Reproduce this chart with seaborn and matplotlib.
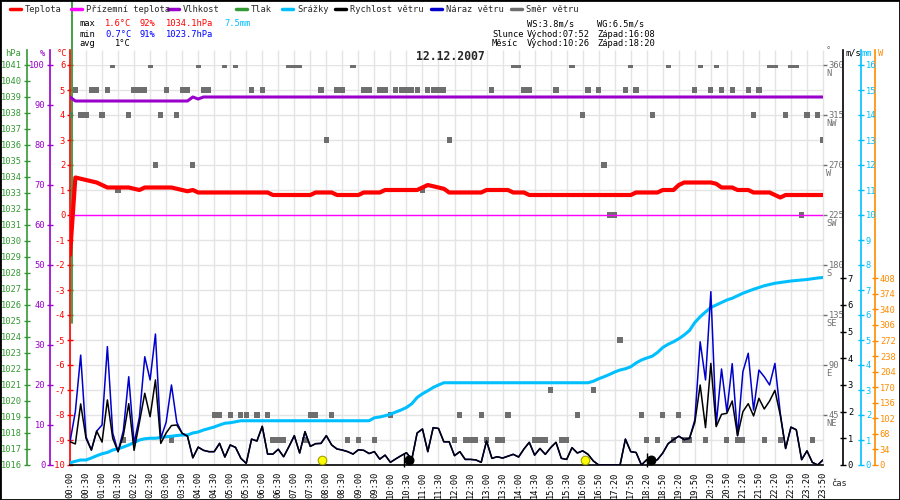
import numpy as np
import pandas as pd
import matplotlib
matplotlib.use("Agg")
import matplotlib.pyplot as plt
from matplotlib.lines import Line2D
from matplotlib.patches import Rectangle
import seaborn as sns

# --- data (10 min samples, label every 3rd sample) ---
tick_labels = ["00:00", "00:30", "01:00", "01:30", "02:02", "02:30", "03:00", "03:30",
               "04:00", "04:30", "05:00", "05:30", "06:00", "06:30", "07:00", "07:30",
               "08:00", "08:30", "09:00", "09:30", "10:00", "10:30", "11:00", "11:30",
               "12:00", "12:30", "13:00", "13:30", "14:00", "14:30", "15:00", "15:30",
               "16:00", "16:50", "17:20", "17:50", "18:20", "18:50", "19:20", "19:50",
               "20:20", "20:50", "21:20", "21:50", "22:20", "22:50", "23:20", "23:50"]

temperature = [
    -1.6, 1.5, 1.45, 1.4, 1.35, 1.3, 1.2, 1.1, 1.1, 1.1, 1.1, 1.1,
    1.05, 1.0, 1.1, 1.1, 1.1, 1.1, 1.1, 1.1, 1.05, 1.0, 0.95, 1.0,
    0.9, 0.9, 0.9, 0.9, 0.9, 0.9, 0.9, 0.9, 0.9, 0.9, 0.9, 0.9,
    0.9, 0.9, 0.8, 0.8, 0.8, 0.8, 0.8, 0.8, 0.8, 0.8, 0.9, 0.9,
    0.9, 0.9, 0.8, 0.8, 0.8, 0.8, 0.8, 0.9, 0.9, 0.9, 0.9, 1.0,
    1.0, 1.0, 1.0, 1.0, 1.0, 1.0, 1.1, 1.2, 1.15, 1.1, 1.05, 0.9,
    0.9, 0.9, 0.9, 0.9, 0.9, 0.9, 1.0, 1.0, 1.0, 1.0, 1.0, 0.9,
    0.9, 0.9, 0.8, 0.8, 0.8, 0.8, 0.8, 0.8, 0.8, 0.8, 0.8, 0.8,
    0.8, 0.8, 0.8, 0.8, 0.8, 0.8, 0.8, 0.8, 0.8, 0.8, 0.9, 0.9,
    0.9, 0.9, 0.9, 1.0, 1.0, 1.0, 1.2, 1.3, 1.3, 1.3, 1.3, 1.3,
    1.3, 1.25, 1.1, 1.1, 1.1, 1.0, 1.0, 1.0, 0.9, 0.9, 0.9, 0.9,
    0.8, 0.7, 0.8, 0.8, 0.8, 0.8, 0.8, 0.8, 0.8, 0.8,
]

humidity = [
    92, 91, 91, 91, 91, 91, 91, 91, 91, 91, 91, 91,
    91, 91, 91, 91, 91, 91, 91, 91, 91, 91, 91, 92,
    91.5, 92, 92, 92, 92, 92, 92, 92, 92, 92, 92, 92,
    92, 92, 92, 92, 92, 92, 92, 92, 92, 92, 92, 92,
    92, 92, 92, 92, 92, 92, 92, 92, 92, 92, 92, 92,
    92, 92, 92, 92, 92, 92, 92, 92, 92, 92, 92, 92,
    92, 92, 92, 92, 92, 92, 92, 92, 92, 92, 92, 92,
    92, 92, 92, 92, 92, 92, 92, 92, 92, 92, 92, 92,
    92, 92, 92, 92, 92, 92, 92, 92, 92, 92, 92, 92,
    92, 92, 92, 92, 92, 92, 92, 92, 92, 92, 92, 92,
    92, 92, 92, 92, 92, 92, 92, 92, 92, 92, 92, 92,
    92, 92, 92, 92, 92, 92, 92, 92, 92, 92,
]

# only the first pressure sample is on the scale, the rest runs off the top
pressure_start = 1024.9

rain = [
    0.09, 0.15, 0.2, 0.2, 0.28, 0.37, 0.45, 0.5, 0.6, 0.65, 0.72, 0.8,
    0.9, 1.0, 1.05, 1.07, 1.07, 1.1, 1.13, 1.15, 1.18, 1.2, 1.2, 1.28,
    1.32, 1.4, 1.46, 1.52, 1.6, 1.67, 1.69, 1.73, 1.77, 1.77, 1.77, 1.77,
    1.77, 1.77, 1.77, 1.77, 1.77, 1.77, 1.77, 1.77, 1.77, 1.77, 1.77, 1.77,
    1.77, 1.77, 1.77, 1.77, 1.77, 1.77, 1.77, 1.77, 1.77, 1.89, 1.92, 1.97,
    2.03, 2.12, 2.2, 2.3, 2.45, 2.7, 2.85, 2.97, 3.1, 3.2, 3.29, 3.29,
    3.29, 3.29, 3.29, 3.29, 3.29, 3.29, 3.29, 3.29, 3.29, 3.29, 3.29, 3.29,
    3.29, 3.29, 3.29, 3.29, 3.29, 3.29, 3.29, 3.29, 3.29, 3.29, 3.29, 3.29,
    3.29, 3.29, 3.35, 3.45, 3.53, 3.62, 3.72, 3.8, 3.85, 3.93, 4.08, 4.2,
    4.28, 4.35, 4.5, 4.7, 4.83, 4.93, 5.05, 5.2, 5.38, 5.7, 5.93, 6.12,
    6.3, 6.4, 6.5, 6.6, 6.67, 6.77, 6.87, 6.95, 7.03, 7.1, 7.17, 7.22,
    7.27, 7.3, 7.33, 7.36, 7.38, 7.4, 7.42, 7.45, 7.48, 7.5,
]

wind_speed = [
    0.87, 0.79, 2.29, 1.0, 0.56, 1.27, 0.86, 2.44, 1.0, 0.5, 1.12, 2.3,
    0.55, 1.6, 2.69, 1.81, 3.19, 0.81, 1.2, 1.48, 1.5, 1.19, 1.08, 0.27,
    0.67, 0.55, 0.5, 0.5, 0.81, 0.3, 0.75, 0.66, 0.25, 0.06, 0.97, 0.9,
    1.45, 0.41, 0.41, 0.59, 0.31, 0.69, 1.1, 0.45, 1.25, 0.7, 0.8, 0.81,
    1.1, 0.75, 0.6, 0.56, 0.5, 0.41, 0.57, 0.55, 0.43, 0.5, 0.22, 0.37,
    0.1, 0.23, 0.35, 0.46, 0.21, 1.2, 1.35, 0.5, 1.4, 1.37, 0.87, 0.87,
    0.35, 0.5, 0.21, 0.21, 0.19, 0.1, 0.9, 0.25, 0.31, 0.26, 0.33, 0.4,
    0.3, 0.6, 0.85, 0.37, 0.62, 0.4, 0.65, 0.85, 0.25, 0.21, 0.65, 0.45,
    0.53, 0.4, 0.15, 0.0, 0.0, 0.0, 0.0, 0.0, 0.97, 0.5, 0.47, 0.0,
    0.2, 0.13, 0.2, 0.45, 0.8, 0.95, 1.08, 0.95, 1.0, 1.6, 3.0, 1.4,
    3.81, 1.44, 1.9, 1.94, 2.4, 1.1, 2.0, 2.3, 1.84, 2.5, 2.1, 2.4,
    2.8, 1.87, 0.62, 1.42, 1.32, 0.2, 0.53, 0.1, 0.0, 0.19,
]

wind_gust = [
    0.87, 2.0, 4.12, 1.06, 0.56, 1.27, 1.5, 4.44, 1.2, 0.5, 1.3, 3.31,
    0.8, 1.8, 4.06, 3.19, 4.91, 1.0, 1.6, 3.0, 1.6, 1.19, 1.08, 0.27,
    0.67, 0.55, 0.5, 0.5, 0.81, 0.3, 0.75, 0.66, 0.25, 0.06, 0.97, 0.9,
    1.45, 0.41, 0.41, 0.59, 0.31, 0.69, 1.1, 0.45, 1.25, 0.7, 0.8, 0.81,
    1.1, 0.75, 0.6, 0.56, 0.5, 0.41, 0.57, 0.55, 0.43, 0.5, 0.22, 0.37,
    0.1, 0.23, 0.35, 0.46, 0.21, 1.2, 1.35, 0.5, 1.4, 1.37, 0.87, 0.87,
    0.35, 0.5, 0.21, 0.21, 0.19, 0.1, 0.9, 0.25, 0.31, 0.26, 0.33, 0.4,
    0.3, 0.6, 0.85, 0.37, 0.62, 0.4, 0.65, 0.85, 0.25, 0.21, 0.65, 0.45,
    0.53, 0.4, 0.15, 0.0, 0.0, 0.0, 0.0, 0.0, 0.97, 0.5, 0.47, 0.0,
    0.2, 0.13, 0.2, 0.45, 0.8, 0.95, 1.08, 0.95, 1.0, 1.69, 4.62, 3.19,
    6.5, 1.5, 3.6, 2.0, 3.8, 1.1, 3.5, 4.19, 2.06, 3.56, 3.31, 3.0,
    3.81, 1.94, 0.62, 1.42, 1.32, 0.2, 0.53, 0.1, 0.0, 0.19,
]

wind_dir = [
    315, 337.5, 315, 315, 337.5, 337.5, 315, 337.5, 360, 247.5, 22.5, 315,
    337.5, 337.5, 337.5, 360, 270, 315, 337.5, 22.5, 315, 337.5, 337.5, 270,
    360, 337.5, 337.5, 45, 45, 360, 45, 360, 45, 45, 337.5, 45,
    337.5, 45, 22.5, 22.5, 22.5, 360, 360, 360, 22.5, 45, 45, 337.5,
    292.5, 45, 337.5, 337.5, 22.5, 360, 22.5, 337.5, 337.5, 22.5, 337.5, 337.5,
    45, 337.5, 337.5, 337.5, 337.5, 337.5, 247.5, 337.5, 337.5, 337.5, 337.5, 292.5,
    22.5, 45, 22.5, 22.5, 22.5, 45, 22.5, 337.5, 22.5, 22.5, 45, 360,
    360, 337.5, 337.5, 22.5, 22.5, 22.5, 67.5, 337.5, 22.5, 22.5, 360, 45,
    315, 337.5, 67.5, 337.5, 270, 225, 225, 112.5, 337.5, 360, 337.5, 45,
    22.5, 315, 22.5, 45, 360, 22.5, 45, 22.5, 22.5, 337.5, 360, 22.5,
    337.5, 360, 337.5, 22.5, 337.5, 22.5, 22.5, 337.5, 315, 337.5, 22.5, 360,
    360, 22.5, 315, 360, 360, 225, 315, 22.5, 315, 292.5,
]

sun_events = ["07:52", "16:08"]
moon_events = ["10:26", "18:20"]

degree_ticks = [45, 90, 135, 180, 225, 270, 315, 360]
compass = ["NE", "E", "SE", "S", "SW", "W", "NW", "N"]

RED, MAG, PURPLE, GREEN = "#ff0000", "#ff00ff", "#9900cc", "#339933"
CYAN, BLUE, GRAY, ORANGE = "#00bfff", "#0000cc", "#6e6e6e", "#ff8c00"
GRID = "#e4e4e4"
FS = 6.3


def minutes(t):
    h, m = t.split(":")
    return int(h) * 60 + int(m)


W, H = 900, 500


def fx(x):
    return x / W


def fy(y):
    return 1 - y / H


step = 3
idx = np.arange(len(temperature))
tick_pos = np.arange(len(tick_labels)) * step
tick_min = [minutes(t) for t in tick_labels]
sun_pos = np.interp([minutes(t) for t in sun_events], tick_min, tick_pos)
moon_pos = np.interp([minutes(t) for t in moon_events], tick_min, tick_pos)

df = pd.DataFrame({"i": idx, "teplota": temperature, "vlhkost": humidity,
                   "srazky": rain, "rychlost": wind_speed, "naraz": wind_gust,
                   "smer": wind_dir})

sns.set_theme(style="white")
plt.rcParams["font.family"] = ["DejaVu Sans Mono"]
plt.rcParams["axes.unicode_minus"] = False

fig = plt.figure(figsize=(9, 5), dpi=100)
ax = fig.add_axes([fx(70), fy(465), (823 - 70) / W, 400 / H])

ax_dir = ax.twinx()
ax_w = ax.twinx()
ax_mm = ax.twinx()
ax_ws = ax.twinx()
ax_hpa = ax.twinx()
ax_pct = ax.twinx()
ax_t = ax.twinx()

all_axes = [ax, ax_dir, ax_w, ax_mm, ax_ws, ax_hpa, ax_pct, ax_t]
for a in all_axes:
    for s in a.spines.values():
        s.set_visible(False)
    a.set_xlim(0, len(temperature) - 1)

EXT = 15 / 400  # axis lines run 15 px above the plot


def axis_line(a, side, pos, lo, hi, color):
    a.set_ylim(lo, hi)
    sp = a.spines[side]
    sp.set_visible(True)
    sp.set_color(color)
    sp.set_linewidth(1.2)
    sp.set_position(("axes", pos))
    sp.set_bounds(lo, hi + (hi - lo) * EXT)
    if side == "left":
        a.yaxis.tick_left()
        a.yaxis.set_label_position("left")
    else:
        a.yaxis.tick_right()
    a.tick_params(axis="y", colors=color, direction="inout", length=5, width=1,
                  labelsize=FS, pad=1)


# base axis: temperature scale + grid + time axis
axis_line(ax, "left", 0.0, -10, 6, RED)
ax.set_yticks(range(-10, 7))
ax.grid(axis="y", color=GRID, lw=1)
ax.set_axisbelow(True)
ax.spines["bottom"].set_visible(True)
ax.spines["bottom"].set_color("black")
ax.spines["bottom"].set_linewidth(1.2)
ax.set_xticks(tick_pos)
ax.set_xticklabels(tick_labels, rotation=90, va="top", ha="center")
ax.set_xticks(tick_pos[:-1] + step / 2, minor=True)
ax.tick_params(axis="x", which="major", colors="black", direction="out",
               length=3, width=1, labelsize=FS, pad=2)
ax.tick_params(axis="x", which="minor", colors="black", direction="out",
               length=1.5, width=1)
ax.vlines(tick_pos, 0, 1 + EXT, transform=ax.get_xaxis_transform(),
          colors=GRID, lw=1, clip_on=False, zorder=0)

# wind direction squares
ax_dir.set_ylim(0, 360)
ax_dir.yaxis.tick_right()
ax_dir.set_yticks(degree_ticks)
ax_dir.tick_params(axis="y", colors="#707070", direction="out", length=3,
                   width=1, labelsize=FS, pad=1)
for d, c in zip(degree_ticks, compass):
    ax_dir.annotate(c, xy=(1, d), xycoords=("axes fraction", "data"),
                    xytext=(2.5, -3), textcoords="offset points", va="top",
                    ha="left", fontsize=FS, color="#707070")
sns.scatterplot(data=df, x="i", y="smer", ax=ax_dir, marker="s", s=14,
                color=GRAY, edgecolor="none", linewidth=0, legend=False)

# radiation scale (no data drawn that day)
axis_line(ax_w, "right", (875 - 70) / 753, 0, 408 * 15 / 7, ORANGE)
ax_w.set_yticks(range(0, 409, 34))

# rain
axis_line(ax_mm, "right", (861 - 70) / 753, 0, 16, CYAN)
ax_mm.set_yticks(range(0, 17))
sns.lineplot(data=df, x="i", y="srazky", ax=ax_mm, color=CYAN, lw=2.2,
             errorbar=None, legend=False)

# wind speed and gust
axis_line(ax_ws, "right", (843 - 70) / 753, 0, 15, "black")
ax_ws.set_yticks(range(0, 8))
sns.lineplot(data=df, x="i", y="naraz", ax=ax_ws, color=BLUE, lw=1.1,
             errorbar=None, legend=False)
sns.lineplot(data=df, x="i", y="rychlost", ax=ax_ws, color="black", lw=1.1,
             errorbar=None, legend=False)

# pressure
axis_line(ax_hpa, "left", (27 - 70) / 753, 1016, 1041, GREEN)
ax_hpa.set_yticks(range(1016, 1042))
p_frac = (pressure_start - 1016) / (1041 - 1016)
ax_hpa.axvline(0.3, ymin=p_frac, ymax=1.2, color=GREEN, lw=1.3, clip_on=False)

# humidity
axis_line(ax_pct, "left", (50 - 70) / 753, 0, 100, PURPLE)
ax_pct.set_yticks(range(0, 101, 10))
sns.lineplot(data=df, x="i", y="vlhkost", ax=ax_pct, color=PURPLE, lw=2.2,
             errorbar=None, legend=False)

# temperature on top
ax_t.set_ylim(-10, 6)
ax_t.set_yticks([])
ax_t.axhline(0, color=MAG, lw=1)
sns.lineplot(data=df, x="i", y="teplota", ax=ax_t, color=RED, lw=3,
             errorbar=None, legend=False)
ax_t.scatter(sun_pos, [0.0125] * len(sun_pos), s=38, color="#ffff00",
             edgecolor="#a0a000", lw=0.8, transform=ax_t.get_xaxis_transform(),
             zorder=5, clip_on=False)
ax_t.scatter(moon_pos + 0.8, [0.0125] * len(moon_pos), s=38, color="black",
             transform=ax_t.get_xaxis_transform(), zorder=5, clip_on=False)
ax_t.vlines(moon_pos, -0.005, 0.03, transform=ax_t.get_xaxis_transform(),
            colors="black", lw=1, clip_on=False)

for a in all_axes:
    a.set_xlabel("")
    a.set_ylabel("")
for a in all_axes[1:]:
    a.xaxis.set_visible(False)
    a.set_xlim(0, len(temperature) - 1)

# legend row
legend_items = [("Teplota", RED, 10), ("Přízemní teplota", MAG, 71),
                ("Vlhkost", PURPLE, 168), ("Tlak", GREEN, 236),
                ("Srážky", CYAN, 282), ("Rychlost větru", "black", 335),
                ("Náraz větru", BLUE, 431), ("Směr větru", GRAY, 511)]
for name, col, x0 in legend_items:
    fig.add_artist(Line2D([fx(x0), fx(x0 + 11)], [fy(9), fy(9)],
                          transform=fig.transFigure, color=col, lw=2.5))
    fig.text(fx(x0 + 15), fy(9), name, va="center", fontsize=FS)

# header stats
hdr = [("max", "black", 79, 24), ("1.6°C", RED, 105, 24), ("92%", RED, 140, 24),
       ("1034.1hPa", RED, 166, 24), ("7.5mm", CYAN, 224, 24),
       ("min", "black", 79, 34), ("0.7°C", "#0000ff", 105, 34),
       ("91%", "#0000ff", 140, 34), ("1023.7hPa", "#0000ff", 166, 34),
       ("avg", "black", 79, 44), ("1°C", "black", 115, 44),
       ("WS:3.8m/s", "black", 527, 24), ("WG:6.5m/s", "black", 597, 24),
       ("Slunce", "black", 492, 34), ("Východ:07:52", "black", 527, 34),
       ("Západ:16:08", "black", 597, 34),
       ("Měsíc", "black", 492, 44), ("Východ:10:26", "black", 527, 44),
       ("Západ:18:20", "black", 597, 44)]
for s, col, x, y in hdr:
    fig.text(fx(x), fy(y), s, color=col, va="center", fontsize=FS)

fig.text(0.5, fy(57), "12.12.2007", ha="center", va="center", fontsize=8.3,
         fontweight="bold")

# unit captions
for s, col, x, y in [("hPa", GREEN, 5, 53), ("%", PURPLE, 40, 53), ("°C", RED, 57, 53),
                     ("°", "#707070", 826, 51), ("m/s", "black", 845, 53),
                     ("mm", CYAN, 862, 53), ("W", ORANGE, 878, 53)]:
    fig.text(fx(x), fy(y), s, color=col, va="center", fontsize=FS)
fig.text(fx(831), fy(483), "čas", va="center", fontsize=FS)

fig.add_artist(Rectangle((0, 0), 1, 1, transform=fig.transFigure, fill=False,
                         edgecolor="black", lw=2))

fig.savefig("out.png", dpi=100, facecolor="white")
